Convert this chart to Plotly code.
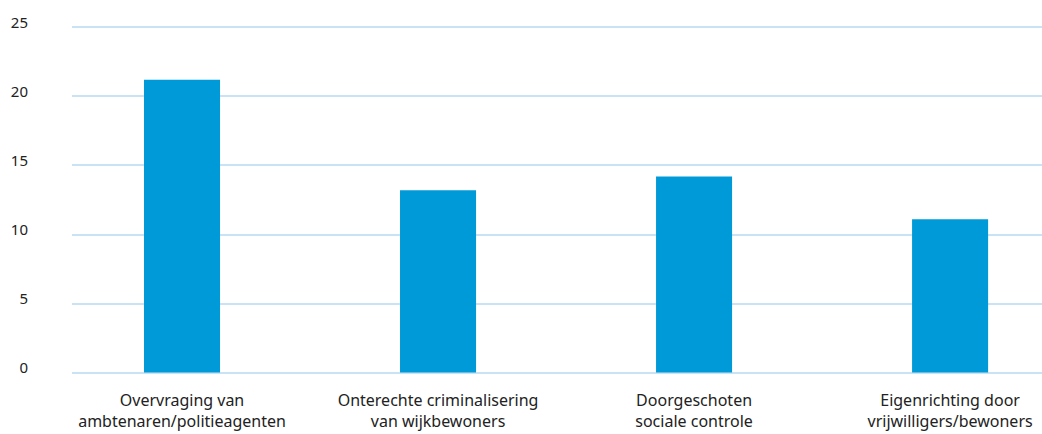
import plotly.graph_objects as go

categories = [
    "Overvraging van<br>ambtenaren/politieagenten",
    "Onterechte criminalisering<br>van wijkbewoners",
    "Doorgeschoten<br>sociale controle",
    "Eigenrichting door<br>vrijwilligers/bewoners",
]
values = [21.2, 13.2, 14.2, 11.1]
y_ticks = [0, 5, 10, 15, 20, 25]

positions = list(range(len(categories)))

fig = go.Figure(
    go.Bar(
        x=positions,
        y=values,
        width=0.297,
        marker=dict(color="#009ad8", line=dict(width=0)),
        hoverinfo="skip",
    )
)

fig.update_layout(
    width=1042,
    height=434,
    margin=dict(l=72, r=0, t=26, b=60),
    paper_bgcolor="white",
    plot_bgcolor="white",
    showlegend=False,
    font=dict(family="Noto Sans, Open Sans, sans-serif", size=16, color="#222222"),
    xaxis=dict(
        range=[-0.4297, 3.359],
        tickmode="array",
        tickvals=positions,
        ticktext=categories,
        showgrid=False,
        zeroline=False,
        showline=False,
        ticks="",
        automargin=False,
        ticklabelstandoff=15,
        tickfont=dict(size=16, color="#222222"),
    ),
    yaxis=dict(
        range=[-0.1, 25.1],
        tickmode="array",
        tickvals=y_ticks,
        showgrid=True,
        gridcolor="#c9e3f5",
        gridwidth=2,
        zeroline=False,
        showline=False,
        ticks="",
        automargin=False,
        ticklabelstandoff=43,
        ticklabelshift=-5,
        tickfont=dict(size=15, color="#222222"),
    ),
)

fig.write_html(
    "out.html",
    config={"displayModeBar": False},
    post_script="document.body.style.margin='0';document.body.style.overflow='hidden';",
)
